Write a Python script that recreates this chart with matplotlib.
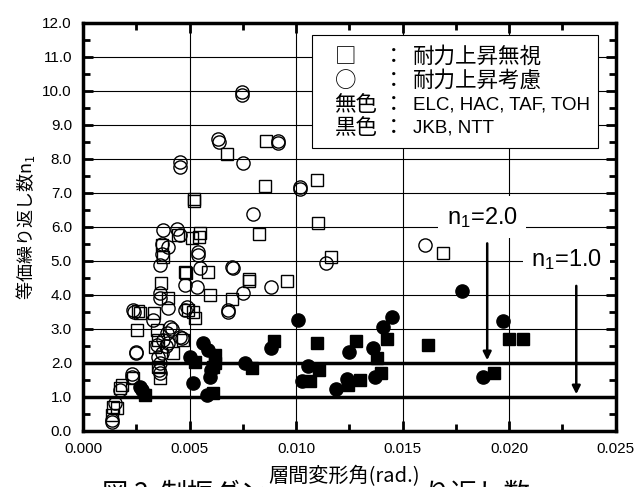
import matplotlib
matplotlib.use("Agg")
from matplotlib import pyplot as plt
from matplotlib import font_manager
from matplotlib.patches import Rectangle

names = set(f.name for f in font_manager.fontManager.ttflist)
narrow = "Liberation Sans Narrow" if "Liberation Sans Narrow" in names else "Liberation Sans"
jp = "Noto Sans CJK JP"
plt.rcParams['font.family'] = [narrow, jp, 'DejaVu Sans']
plt.rcParams['mathtext.default'] = 'regular'

# drift angle x1e-3 rad, equivalent cycles n1
open_sq_x = [6.75, 8.58, 8.54, 8.25, 5.2, 5.2, 10.97, 11.05, 4.48, 5.1, 5.49, 5.46, 16.89, 11.63,
             2.68, 2.52, 2.36, 1.82, 1.74, 1.58, 1.35, 1.42, 3.54, 3.46, 3.33, 4.24, 4.71, 3.66,
             4.0, 3.77, 3.69, 4.79, 4.84, 5.18, 5.26, 5.88, 5.96, 6.98, 7.81, 7.81, 9.56, 3.38,
             2.6, 3.54, 3.62, 4.94]
open_sq_y = [8.15, 8.54, 7.2, 5.78, 6.82, 6.76, 7.38, 6.13, 5.76, 5.67, 5.81, 5.72, 5.23, 5.13,
             3.46, 2.97, 1.55, 1.35, 1.25, 0.67, 0.47, 0.71, 2.68, 2.97, 3.46, 2.28, 2.68, 4.34,
             3.9, 5.13, 5.47, 4.69, 4.64, 3.51, 3.31, 4.69, 4.0, 3.87, 4.46, 4.4, 4.42, 2.48,
             3.53, 1.89, 1.55, 3.56]

open_ci_x = [7.45, 7.45, 6.35, 6.4, 9.17, 9.17, 7.5, 8.0, 4.57, 4.57, 10.2, 10.2, 3.77, 4.4,
             4.0, 3.62, 5.41, 5.41, 5.49, 6.98, 7.03, 16.06, 11.41, 2.36, 2.4, 2.49, 2.49, 2.29,
             2.3, 1.74, 1.5, 1.35, 1.35, 3.46, 3.54, 3.58, 3.6, 3.3, 3.77, 3.93, 4.08, 4.2, 4.55,
             4.63, 3.62, 3.6, 4.0, 3.72, 4.55, 4.79, 4.87, 4.8, 5.34, 6.82, 6.82, 7.53, 8.81,
             3.7, 3.9, 4.0, 3.6, 3.69]
open_ci_y = [9.98, 9.88, 8.58, 8.5, 8.54, 8.46, 7.89, 6.38, 7.92, 7.77, 7.19, 7.13, 5.91, 5.93,
             5.42, 4.88, 5.27, 5.17, 4.79, 4.83, 4.78, 5.47, 4.95, 3.56, 3.5, 2.28, 2.33, 1.6,
             1.68, 1.2, 0.81, 0.32, 0.25, 2.53, 2.19, 1.79, 1.7, 3.26, 2.68, 2.87, 3.07, 3.0, 2.77,
             2.73, 4.05, 3.9, 3.61, 5.22, 5.76, 4.29, 3.66, 3.56, 4.24, 3.56, 3.5, 4.05, 4.23,
             2.3, 2.5, 2.6, 2.0, 5.5]

fill_ci_x = [17.8, 10.08, 12.49, 13.6, 14.1, 14.49, 10.58, 10.27, 11.88, 12.38, 13.71, 18.77,
             19.69, 8.81, 7.6, 5.02, 5.65, 5.88, 5.96, 5.99, 5.18, 5.81, 2.68, 2.75]
fill_ci_y = [4.13, 3.26, 2.33, 2.43, 3.07, 3.36, 1.91, 1.47, 1.23, 1.52, 1.6, 1.6,
             3.24, 2.43, 2.01, 2.19, 2.58, 2.38, 1.6, 1.79, 1.4, 1.06, 1.3, 1.2]

fill_sq_x = [11.0, 12.8, 13.82, 14.29, 16.18, 11.08, 10.66, 12.43, 13.0, 13.99, 19.27, 19.97,
             20.67, 8.98, 7.92, 5.26, 6.2, 6.12, 6.2, 6.12, 2.91]
fill_sq_y = [2.6, 2.66, 2.14, 2.7, 2.53, 1.79, 1.48, 1.35, 1.5, 1.7, 1.7, 2.7,
             2.7, 2.66, 1.84, 2.04, 2.24, 1.89, 2.0, 1.11, 1.06]

legend_sym = ["□", "○", "無色", "黒色"]
legend_txt = ["耐力上昇無視", "耐力上昇考慮", "ELC, HAC, TAF, TOH", "JKB, NTT"]

def sc(v):
    return [a * 1e-3 for a in v]

fig = plt.figure(figsize=(6.35, 4.87), dpi=100)
ax = fig.add_axes([0.1307, 0.115, 0.8389, 0.8378])

ax.plot(sc(open_sq_x), open_sq_y, 's', ms=8.3, mfc='none', mec='black', mew=1.0, zorder=3)
ax.plot(sc(open_ci_x), open_ci_y, 'o', ms=9.5, mfc='none', mec='black', mew=1.0, zorder=3)
ax.plot(sc(fill_sq_x), fill_sq_y, 's', ms=8.3, mfc='black', mec='black', zorder=3)
ax.plot(sc(fill_ci_x), fill_ci_y, 'o', ms=9.5, mfc='black', mec='black', zorder=3)

ax.set_xlim(0, 0.025)
ax.set_ylim(0, 12)
ax.set_xticks([0, 0.005, 0.010, 0.015, 0.020, 0.025])
ax.set_xticklabels(["0.000", "0.005", "0.010", "0.015", "0.020", "0.025"])
ax.set_xticks([0.0025, 0.0075, 0.0125, 0.0175, 0.0225], minor=True)
ax.set_yticks(range(13))
ax.set_yticklabels(["%.1f" % v for v in range(13)])
ax.set_yticks([v + 0.5 for v in range(12)], minor=True)
ax.tick_params(which='both', direction='in', top=True, right=True, width=2, labelsize=11)
ax.tick_params(which='major', length=7, pad=8)
ax.tick_params(which='minor', length=5)
for s in ax.spines.values():
    s.set_linewidth(2.5)

for v in [0.005, 0.010, 0.015, 0.020]:
    ax.axvline(v, color='black', lw=0.8, zorder=1)
for v in range(3, 12):
    ax.axhline(v, color='black', lw=0.8, zorder=1)
for v in [1, 2]:
    ax.axhline(v, color='black', lw=2.5, zorder=1)

# legend box
ax.add_patch(Rectangle((0.01075, 8.32), 0.01343, 3.33, facecolor='white', edgecolor='black',
                       lw=0.8, zorder=4))
rows = [11.0, 10.3, 9.6, 8.92]
for i in range(4):
    ax.text(0.0118, rows[i], legend_sym[i], family=[jp], fontsize=15.5, va='center', zorder=5)
    ax.text(0.0146, rows[i], "：", family=[jp], fontsize=15.5, va='center', ha='center', zorder=5)
    if i < 2:
        ax.text(0.01549, rows[i], legend_txt[i], family=[jp], fontsize=15.5, va='center', zorder=5)
    else:
        ax.text(0.01549, rows[i], legend_txt[i], family=[narrow], fontsize=13.5, va='center', zorder=5)

ax.text(0.01873, 6.29, 'n$_1$=2.0', fontsize=17, ha='center', va='center', zorder=5,
        bbox=dict(facecolor='white', edgecolor='none', pad=6))
ax.text(0.0227, 5.03, 'n$_1$=1.0', fontsize=17, ha='center', va='center', zorder=5,
        bbox=dict(facecolor='white', edgecolor='none', pad=6))
ax.annotate('', xy=(0.01897, 2.0), xytext=(0.01897, 5.6), zorder=5,
            arrowprops=dict(arrowstyle='-|>', color='black', lw=1.8, mutation_scale=12))
ax.annotate('', xy=(0.02315, 1.0), xytext=(0.02315, 4.35), zorder=5,
            arrowprops=dict(arrowstyle='-|>', color='black', lw=1.8, mutation_scale=12))

ax.set_ylabel('等価繰り返し数n$_1$', family=[jp], fontsize=13, labelpad=4)
fig.text(0.498, 0.012, '図 2  制振ダンパーの等価繰り返し数', family=[jp], fontsize=19,
         ha='center', va='top')
fig.text(0.542, 0.0, '層間変形角(rad.)', family=[jp], fontsize=14.5, ha='center', va='bottom',
         bbox=dict(facecolor='white', edgecolor='none', pad=1))

fig.savefig("out.png", dpi=100)
